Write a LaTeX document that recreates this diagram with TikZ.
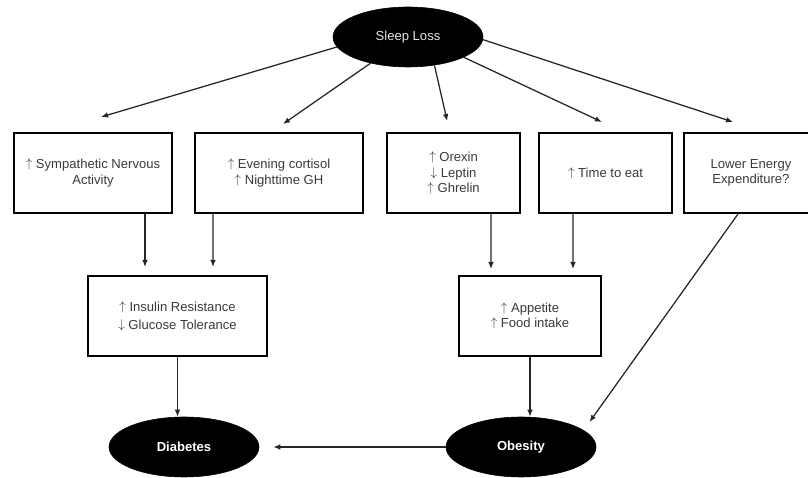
\documentclass[tikz,border=0pt]{standalone}
\usepackage{fontspec}
\setmainfont{Liberation Sans}
\usetikzlibrary{shapes.geometric,arrows.meta,positioning}
\definecolor{inkGray}{HTML}{3A3A3A}
\definecolor{capGray}{HTML}{E4E4E4}
\newcommand{\incr}{\raisebox{0.15ex}{$\uparrow$}}
\newcommand{\decr}{\raisebox{0.15ex}{$\downarrow$}}

\begin{document}
\begin{tikzpicture}[
    box/.style={draw=black, line width=1.4pt, minimum height=2.0cm,
                font=\fontsize{9.3}{10.9}\selectfont, text=inkGray,
                align=center, inner sep=3pt},
    blob/.style={ellipse, draw=black, fill=black, minimum width=3.75cm,
                 minimum height=1.5cm, inner sep=0pt,
                 font=\fontsize{9.3}{10.9}\selectfont},
    arr/.style={-{Latex[length=5pt,width=4pt]}, line width=0.9pt, black!85},
]
\clip (0,0) rectangle (20.2,11.95);

% --- Cause (top) ---
\node[blob, text=capGray] (sleep) at (10.2, 11.025) {Sleep Loss};

% --- First row ---
\node[box, minimum width=3.95cm]
    (symp) at (2.325, 7.625) {\incr\ Sympathetic Nervous\\Activity};
\node[box, minimum width=4.2cm]
    (cort) at (6.975, 7.625) {\incr\ Evening cortisol\\\incr\ Nighttime GH};
\node[box, minimum width=3.325cm]
    (orex) at (11.34, 7.625) {\incr\ Orexin\\\decr\ Leptin\\\incr\ Ghrelin};
\node[box, minimum width=3.325cm]
    (eat) at (15.14, 7.625) {\incr\ Time to eat};
\node[box, minimum width=3.35cm]
    (lowe) at (18.775, 7.625) {Lower Energy\\Expenditure?};

\draw[arr] (sleep.188) -- ([xshift=0.2cm, yshift=0.375cm]symp.north);
\draw[arr] (sleep.215) -- ([xshift=0.1cm, yshift=0.2cm]cort.north);
\draw[arr] (sleep.313) -- ([xshift=-0.16cm, yshift=0.275cm]orex.north);
\draw[arr] (sleep.340) -- ([xshift=-0.09cm, yshift=0.25cm]eat.north);
\draw[arr] (sleep.358) -- ([xshift=-0.45cm, yshift=0.25cm]lowe.north);

% --- Second row ---
\node[box, minimum width=4.475cm]
    (ins) at (4.4375, 4.05) {\incr\ Insulin Resistance\\[2pt]\decr\ Glucose Tolerance};
\node[box, minimum width=3.55cm]
    (app) at (13.25, 4.05) {\incr\ Appetite\\\incr\ Food intake};

\draw[arr] ([xshift=1.3cm]symp.south) -- ([xshift=-0.8125cm, yshift=0.2cm]ins.north);
\draw[arr] ([xshift=-1.65cm]cort.south) -- ([xshift=0.8875cm, yshift=0.2cm]ins.north);
\draw[arr] ([xshift=0.935cm]orex.south) -- ([xshift=-0.975cm, yshift=0.15cm]app.north);
\draw[arr] ([xshift=-0.815cm]eat.south) -- ([xshift=1.075cm, yshift=0.15cm]app.north);

% --- Outcomes (bottom) ---
\node[blob, text=white, font=\fontsize{9.3}{10.9}\selectfont\bfseries]
    (diab) at (4.6, 0.775) {Diabetes};
\node[blob, text=white, font=\fontsize{9.3}{10.9}\selectfont\bfseries]
    (obes) at (13.025, 0.775) {Obesity};

\draw[arr] (ins.south) -- (ins.south |- diab.north);
\draw[arr] (app.south) -- (app.south |- obes.north);
\draw[arr, shorten >=0.25cm] ([xshift=-0.325cm]lowe.south) -- (obes.15);
\draw[arr, shorten >=0.35cm] (obes.west) -- (diab.east);

\end{tikzpicture}
\end{document}
